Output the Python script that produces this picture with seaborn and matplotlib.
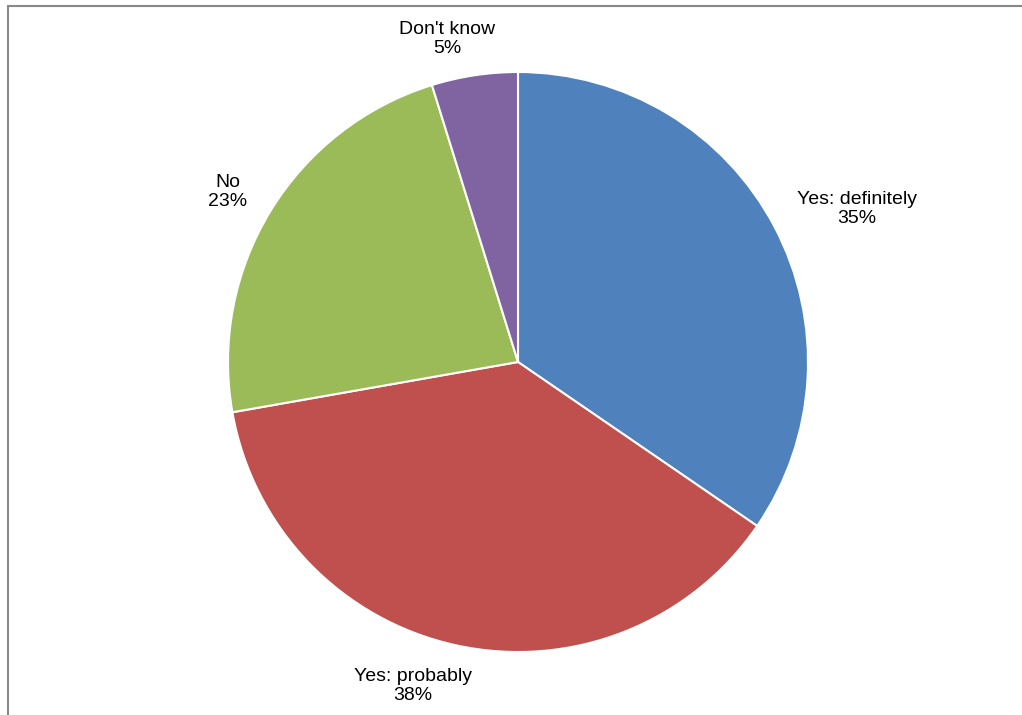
import matplotlib
matplotlib.use("Agg")
import matplotlib.pyplot as plt
from matplotlib.lines import Line2D
import seaborn as sns

categories = ["Yes: definitely", "Yes: probably", "No", "Don't know"]
values = [34.6, 37.7, 23.0, 4.8]
colors_hex = ["#4F81BD", "#C0504D", "#9BBB59", "#8064A2"]

sns.set_theme(style="white")
plt.rcParams['font.family'] = ['Liberation Sans', 'DejaVu Sans']
palette = sns.color_palette(colors_hex)

W, H = 1022, 715
fig = plt.figure(figsize=(W / 100, H / 100), dpi=100)
fig.patch.set_facecolor("white")
ax = fig.add_axes([0, 0, 1, 1])

cx, cy, r = 518, H - 362, 290
ax.pie(values, colors=palette, startangle=90, counterclock=False,
       center=(cx, cy), radius=r, frame=True,
       wedgeprops=dict(edgecolor="white", linewidth=1.5))
ax.set_xlim(0, W)
ax.set_ylim(0, H)
ax.set_aspect("equal")
ax.axis("off")

total = sum(values)
label_pos = [(857, 209), (413, 686), (228, 192), (447, 39)]
for cat, v, (lx, ly) in zip(categories, values, label_pos):
    ax.text(lx, H - ly, f"{cat}\n{round(v / total * 100):d}%", ha="center",
            va="center", fontsize=14, color="black", linespacing=1.15)

# outer frame
fig.add_artist(Line2D([7.5 / W, 7.5 / W], [0, 1 - 5.5 / H], transform=fig.transFigure,
                      color="#888888", linewidth=1.5))
fig.add_artist(Line2D([7.5 / W, 1], [1 - 5.5 / H, 1 - 5.5 / H], transform=fig.transFigure,
                      color="#888888", linewidth=1.5))

fig.savefig("out.png", dpi=100, facecolor="white")
